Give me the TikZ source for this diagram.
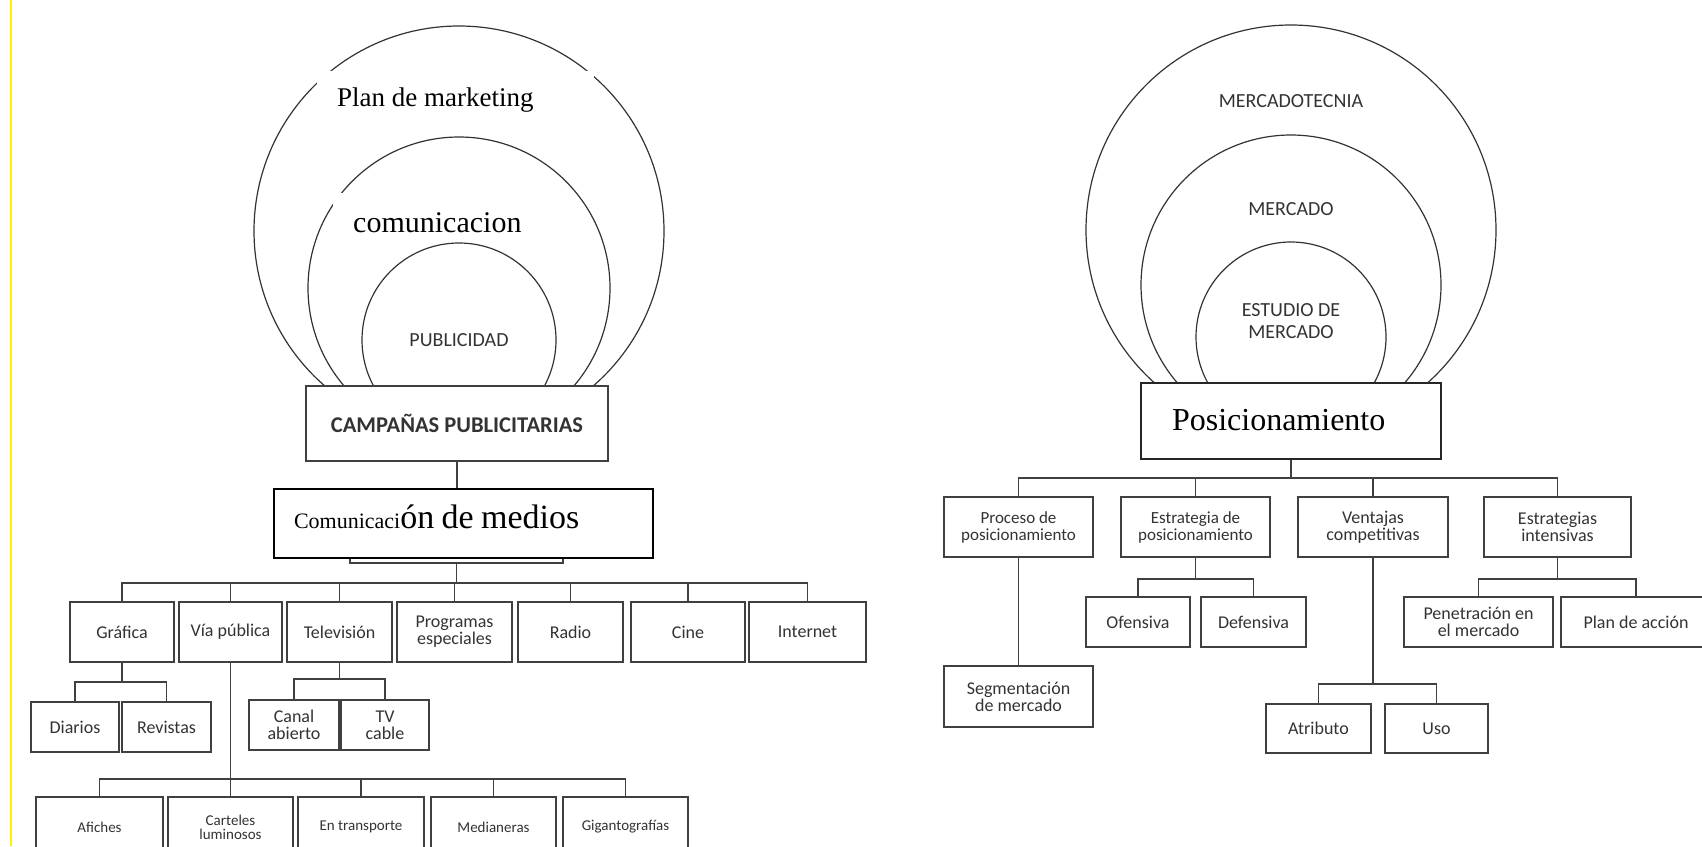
\documentclass[tikz,border=0pt]{standalone}
\usepackage{fontspec}
\setmainfont{Liberation Serif}
\newfontfamily\calibri{Carlito}
\usepackage{tikz}
\tikzset{
  caja/.style={draw=black!75,line width=1.6pt,fill=white,align=center,inner sep=0pt,
    text=black!80,font=\calibri\fontsize{18}{17}\selectfont},
  nivel/.style={caja,minimum height=60pt},
  hoja/.style={caja,minimum height=50pt},
  pie/.style={caja,minimum height=60pt,font=\calibri\fontsize{15}{14}\selectfont},
  rama/.style={draw=black!75,line width=1.6pt},
  orbe/.style={draw=black!80,line width=1.2pt},
  rotulo/.style={anchor=base west,inner sep=0pt,font=\fontsize{27}{30}\selectfont},
  capa/.style={align=center,text=black!80,font=\calibri\fontsize{20}{22}\selectfont}
}
\begin{document}
\begin{tikzpicture}[x=1pt,y=-1pt]
\useasboundingbox (0,0) rectangle (1702,846);
\draw[yellow,line width=2pt] (11,0)--(11,846);

\draw[orbe] (459,231) circle[radius=205pt];
\draw[orbe] (459,288) circle[radius=151pt];
\draw[orbe] (459,340) circle[radius=97pt];
\fill[white] (317,71) rectangle (594,128);
\node[rotulo] (plan) at (337,106) {Plan de marketing};
\fill[white] (333,193) rectangle (560,240);
\node[rotulo,font=\fontsize{30}{32}\selectfont] (comu) at (353,232) {comunicacion};
\node[capa] (publi) at (459,340) {PUBLICIDAD};

\node[caja,minimum width=302pt,minimum height=75pt,font=\calibri\bfseries\fontsize{22.5}{24}\selectfont] (campanas) at (457,423.5) {CAMPAÑAS PUBLICITARIAS};
\node[caja,minimum width=213pt,minimum height=60pt] (oculta) at (456.5,533) {};
\node[caja,draw=black,line width=1.3pt,text=black,text width=339pt,align=left,inner xsep=20pt,
  minimum height=69pt,text height=23pt,text depth=14pt,font=\fontsize{22}{24}\selectfont] (medios) at (463.5,523.5)
  {Comunicaci{\fontsize{34}{36}\selectfont ón de medios}};
\draw[rama] (campanas.south) -- (campanas.south |- medios.north);

\node[nivel,minimum width=104pt] (grafica) at (122,632) {Gráfica};
\node[nivel,minimum width=103pt] (via) at (230.5,632) {Vía pública};
\node[nivel,minimum width=105pt] (tele) at (339.5,632) {Televisión};
\node[nivel,minimum width=115pt] (progr) at (454.5,632) {Programas\\especiales};
\node[nivel,minimum width=105pt] (radio) at (570.5,632) {Radio};
\node[nivel,minimum width=114pt] (cine) at (688,632) {Cine};
\node[nivel,minimum width=117pt] (inter) at (807.5,632) {Internet};
\draw[rama] (oculta.south) -- ++(0,19) coordinate (b1);
\foreach \n in {grafica,via,tele,progr,radio,cine,inter}
  \draw[rama] (b1) -| (\n.north);

\node[hoja,minimum width=88pt] (diarios) at (75,727) {Diarios};
\node[hoja,minimum width=89pt] (revistas) at (166.5,727) {Revistas};
\draw[rama] (grafica.south) -- ++(0,19) coordinate (b2);
\draw[rama] (b2) -| (diarios.north);
\draw[rama] (b2) -| (revistas.north);

\node[hoja,minimum width=90pt] (canal) at (294,725) {Canal\\abierto};
\node[hoja,minimum width=88pt] (cable) at (385,725) {TV\\cable};
\draw[rama] (tele.south) -- ++(0,16) coordinate (b3);
\draw[rama] (b3) -| (canal.north);
\draw[rama] (b3) -| (cable.north);

\node[pie,minimum width=127pt] (afiches) at (99.5,827) {Afiches};
\node[pie,minimum width=125pt] (carteles) at (230.5,827) {Carteles\\luminosos};
\node[pie,minimum width=126pt] (transp) at (361,827) {En transporte};
\node[pie,minimum width=125pt] (median) at (493.5,827) {Medianeras};
\node[pie,minimum width=125pt] (giganto) at (625.5,827) {Gigantografías};
\draw[rama] (via.south) -- ++(0,116) coordinate (b4);
\foreach \n in {afiches,carteles,transp,median,giganto}
  \draw[rama] (b4) -| (\n.north);

\draw[orbe] (1291,230) circle[radius=205pt];
\draw[orbe] (1291,285) circle[radius=150pt];
\draw[orbe] (1291,337) circle[radius=95pt];
\node[capa] (mkt) at (1291,101) {MERCADOTECNIA};
\node[capa] (merc) at (1291,209) {MERCADO};
\node[capa] (estudio) at (1291,321) {ESTUDIO DE\\MERCADO};

\node[caja,draw=black!85,line width=1.4pt,text=black,text width=238pt,align=left,inner xsep=31pt,
  minimum height=76pt,text height=22pt,text depth=4pt,font=\fontsize{32}{34}\selectfont] (posic) at (1291,421)
  {Posicionamiento};

\node[nivel,minimum width=149pt,font=\calibri\fontsize{17}{17}\selectfont] (proceso) at (1018.5,527) {Proceso de\\posicionamiento};
\node[nivel,minimum width=149pt,font=\calibri\fontsize{17}{17}\selectfont] (estrat) at (1195.5,527) {Estrategia de\\posicionamiento};
\node[nivel,minimum width=150pt] (ventajas) at (1373,527) {Ventajas\\competitivas};
\node[nivel,minimum width=147pt] (intens) at (1557.5,527) {Estrategias\\intensivas};
\draw[rama] (posic.south) -- ++(0,18) coordinate (b6);
\foreach \n in {proceso,estrat,ventajas,intens}
  \draw[rama] (b6) -| (\n.north);

\node[nivel,minimum width=149pt,minimum height=61pt] (segmenta) at (1018.5,696.5) {Segmentación\\de mercado};
\draw[rama] (proceso) -- (segmenta);

\node[hoja,minimum width=104pt] (ofensiva) at (1138,622) {Ofensiva};
\node[hoja,minimum width=105pt] (defensiva) at (1253.5,622) {Defensiva};
\draw[rama] (estrat.south) -- ++(0,21) coordinate (b7);
\draw[rama] (b7) -| (ofensiva.north);
\draw[rama] (b7) -| (defensiva.north);

\node[hoja,minimum width=105pt,minimum height=49pt] (atributo) at (1318.5,728.5) {Atributo};
\node[hoja,minimum width=103pt,minimum height=49pt] (uso) at (1436.5,728.5) {Uso};
\draw[rama] (ventajas.south) -- ++(0,126) coordinate (b8);
\draw[rama] (b8) -| (atributo.north);
\draw[rama] (b8) -| (uso.north);

\node[hoja,minimum width=149pt] (penetra) at (1478.5,622) {Penetración en\\el mercado};
\node[hoja,minimum width=150pt] (planacc) at (1636,622) {Plan de acción};
\draw[rama] (intens.south) -- ++(0,21) coordinate (b9);
\draw[rama] (b9) -| (penetra.north);
\draw[rama] (b9) -| (planacc.north);
\end{tikzpicture}
\end{document}
